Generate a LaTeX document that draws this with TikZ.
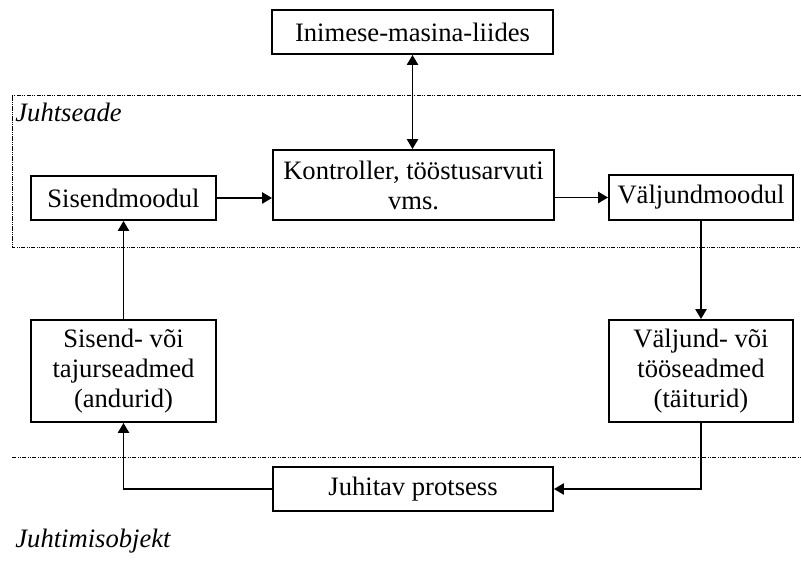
\documentclass[tikz,border=0pt]{standalone}
\usepackage{fontspec}
\setmainfont{Liberation Serif}
\usetikzlibrary{arrows.meta}
\begin{document}
\begin{tikzpicture}[x=0.5pt,y=-0.5pt,
  every node/.style={font=\fontsize{13.3}{15}\selectfont},
  blok/.style={draw,line width=0.95pt,rectangle,inner sep=0pt,align=center},
  conn/.style={line width=0.95pt,-{Triangle[length=5pt,width=5.6pt]}},
  silt/.style={anchor=base west,inner sep=0pt,font=\fontsize{13.3}{15}\selectfont\itshape},
  piir/.style={line width=0.45pt,dash pattern=on 2.2pt off 0.6pt on 0.5pt off 0.6pt on 0.5pt off 0.6pt}]
\useasboundingbox (0,0) rectangle (801,565);
% control unit boundary and process boundary
\draw[piir] (801,95.5) -- (12,95.5) -- (12,247.5) -- (801,247.5);
\draw[piir] (12,457) -- (801,457);
\node[silt] (juhtseade) at (15,122) {Juhtseade};
\node[silt] (objekt) at (15,547) {Juhtimisobjekt};
% blocks
\node[blok,minimum width=140.5pt,minimum height=22pt] (hmi) at (412.5,32) {Inimese-masina-liides};
\node[blok,minimum width=140.5pt,minimum height=35pt] (ctrl) at (413.5,185) {Kontroller, tööstusarvuti\\vms.};
\node[blok,minimum width=92.5pt,minimum height=22pt] (sisend) at (123.5,198) {Sisendmoodul};
\node[blok,minimum width=92pt,minimum height=22.5pt] (valjund) at (701,197.5) {Väljundmoodul};
\node[blok,minimum width=92.5pt,minimum height=51pt] (andurid) at (123.5,371) {Sisend- või\\tajurseadmed\\(andurid)};
\node[blok,minimum width=92pt,minimum height=51pt] (taiturid) at (701,371) {Väljund- või\\tööseadmed\\(täiturid)};
\node[blok,minimum width=140pt,minimum height=22pt] (protsess) at (413,489) {Juhitav protsess};
% connections
\draw[conn,{Triangle[length=5pt,width=5.6pt]}-{Triangle[length=5pt,width=5.6pt]}] (hmi.south) -- (hmi.south |- ctrl.north);
\draw[conn] (sisend.east) -- (sisend.east -| ctrl.west);
\draw[conn] (ctrl.east |- valjund.west) -- (valjund.west);
\draw[conn] (valjund.south) -- (taiturid.north);
\draw[conn] (taiturid.south) |- (protsess.east);
\draw[conn] (protsess.west) -| (andurid.south);
\draw[conn] (andurid.north) -- (sisend.south);
\end{tikzpicture}
\end{document}
